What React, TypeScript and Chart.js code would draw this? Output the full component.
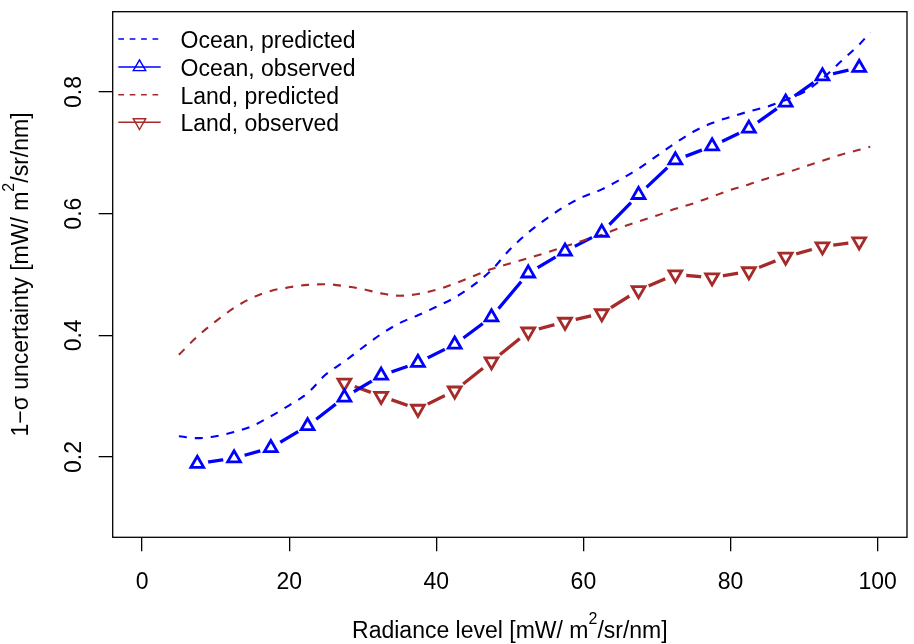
import React, { useEffect, useRef } from "react";
import { Chart, registerables } from "chart.js";

Chart.register(...registerables);

// ---- data ----
const xTicks = [0, 20, 40, 60, 80, 100];
const xTickLabels = ["0", "20", "40", "60", "80", "100"];
const yTicks = [0.2, 0.4, 0.6, 0.8];
const yTickLabels = ["0.2", "0.4", "0.6", "0.8"];

const oceanObsX = [7.5, 12.5, 17.5, 22.5, 27.5, 32.5, 37.5, 42.5, 47.5, 52.5, 57.5, 62.5, 67.5, 72.5, 77.5, 82.5, 87.5, 92.5, 97.5];
const oceanObsY = [0.189, 0.198, 0.215, 0.251, 0.298, 0.334, 0.355, 0.385, 0.430, 0.502, 0.538, 0.569, 0.631, 0.688, 0.711, 0.740, 0.783, 0.826, 0.840];

const landObsX = [27.5, 32.5, 37.5, 42.5, 47.5, 52.5, 57.5, 62.5, 67.5, 72.5, 77.5, 82.5, 87.5, 92.5, 97.5];
const landObsY = [0.322, 0.300, 0.279, 0.309, 0.357, 0.406, 0.422, 0.436, 0.474, 0.500, 0.495, 0.505, 0.529, 0.546, 0.554];

const predX = [5, 7.5, 10, 12.5, 15, 17.5, 20, 22.5, 25, 27.5, 30, 32.5, 35, 37.5, 40, 42.5, 45, 47.5, 50, 52.5, 55, 57.5, 60, 62.5, 65, 67.5, 70, 72.5, 75, 77.5, 80, 82.5, 85, 87.5, 90, 92.5, 95, 97.5, 99];
const oceanPredY = [0.234, 0.231, 0.234, 0.241, 0.251, 0.267, 0.285, 0.305, 0.336, 0.357, 0.380, 0.402, 0.420, 0.433, 0.447, 0.462, 0.482, 0.507, 0.541, 0.569, 0.592, 0.612, 0.628, 0.640, 0.656, 0.674, 0.695, 0.716, 0.735, 0.749, 0.759, 0.768, 0.776, 0.787, 0.800, 0.822, 0.850, 0.878, 0.898];
const landPredY = [0.368, 0.398, 0.423, 0.445, 0.462, 0.473, 0.479, 0.483, 0.484, 0.481, 0.476, 0.469, 0.465, 0.468, 0.475, 0.485, 0.497, 0.509, 0.518, 0.527, 0.536, 0.546, 0.556, 0.565, 0.577, 0.587, 0.597, 0.608, 0.617, 0.628, 0.639, 0.648, 0.658, 0.667, 0.677, 0.687, 0.697, 0.705, 0.710];

const legendLabels = ["Ocean, predicted", "Ocean, observed", "Land, predicted", "Land, observed"];

const BLUE = "#0000FF";
const BROWN = "#A52A2A";
const GAP = "#ffffff";
const FONT = '"Liberation Sans", Arial, Helvetica, sans-serif';
const FS = 23;

const pts = (xs: number[], ys: number[]) => xs.map((x, i) => ({ x, y: ys[i] }));

type Part = { t: string; sup?: boolean };

function drawRich(ctx: CanvasRenderingContext2D, parts: Part[], x: number, y: number) {
  const widths = parts.map((p) => {
    ctx.font = `${p.sup ? 16 : FS}px ${FONT}`;
    return ctx.measureText(p.t).width;
  });
  const total = widths.reduce((a, b) => a + b, 0);
  let cx = x - total / 2;
  ctx.textAlign = "left";
  ctx.textBaseline = "alphabetic";
  parts.forEach((p, i) => {
    ctx.font = `${p.sup ? 16 : FS}px ${FONT}`;
    ctx.fillText(p.t, cx, p.sup ? y - 14 : y);
    cx += widths[i];
  });
}

function tri(ctx: CanvasRenderingContext2D, x: number, y: number, r: number, down: boolean) {
  const s = down ? -1 : 1;
  ctx.beginPath();
  ctx.moveTo(x, y - s * r);
  ctx.lineTo(x + 0.866 * r, y + s * r / 2);
  ctx.lineTo(x - 0.866 * r, y + s * r / 2);
  ctx.closePath();
  ctx.stroke();
}

const decorPlugin = {
  id: "decor",
  afterDraw(chart: any) {
    const ctx: CanvasRenderingContext2D = chart.ctx;
    const { left, right, top, bottom } = chart.chartArea;
    const xs = chart.scales.x;
    const ys = chart.scales.y;
    ctx.save();
    ctx.strokeStyle = "#000";
    ctx.lineWidth = 1.3;
    ctx.strokeRect(left, top, right - left, bottom - top);
    ctx.fillStyle = "#000";
    ctx.font = `${FS}px ${FONT}`;
    ctx.textAlign = "center";
    ctx.textBaseline = "alphabetic";
    xTicks.forEach((v, i) => {
      ctx.fillText(xTickLabels[i], xs.getPixelForValue(v), 588.5);
    });
    yTicks.forEach((v, i) => {
      ctx.save();
      ctx.translate(80.5, ys.getPixelForValue(v));
      ctx.rotate(-Math.PI / 2);
      ctx.textAlign = "center";
      ctx.fillText(yTickLabels[i], 0, 0);
      ctx.restore();
    });
    const cxp = (left + right) / 2;
    drawRich(ctx, [{ t: "Radiance level [mW/ m" }, { t: "2", sup: true }, { t: "/sr/nm]" }], cxp, 638.3);
    ctx.save();
    ctx.translate(28, (top + bottom) / 2);
    ctx.rotate(-Math.PI / 2);
    drawRich(ctx, [{ t: "1\u2212\u03C3 uncertainty [mW/ m" }, { t: "2", sup: true }, { t: "/sr/nm]" }], 0, 0);
    ctx.restore();
    const rows = [39, 67, 94.7, 122.3];
    const cols = [BLUE, BLUE, BROWN, BROWN];
    rows.forEach((ry, i) => {
      ctx.strokeStyle = cols[i];
      ctx.lineWidth = 1.4;
      ctx.setLineDash(i % 2 === 0 ? [5.7, 5.7] : []);
      ctx.beginPath();
      ctx.moveTo(118.3, ry);
      ctx.lineTo(160.7, ry);
      ctx.stroke();
      ctx.setLineDash([]);
      if (i % 2 === 1) {
        tri(ctx, 139.5, ry, 7.2, i === 3);
      }
      ctx.fillStyle = "#000";
      ctx.font = `${FS}px ${FONT}`;
      ctx.textAlign = "left";
      ctx.textBaseline = "alphabetic";
      ctx.fillText(legendLabels[i], 180.5, ry + 9);
    });
    ctx.restore();
  },
};

export default function App() {
  const ref = useRef<HTMLCanvasElement | null>(null);
  useEffect(() => {
    if (!ref.current) return;
    const lineDs = (data: any, color: string, extra: any) => ({
      data,
      showLine: true,
      borderColor: color,
      backgroundColor: color,
      pointRadius: 0,
      fill: false,
      ...extra,
    });
    const gapDs = (data: any) => ({
      data,
      showLine: false,
      pointStyle: "circle",
      pointRadius: 11,
      pointBackgroundColor: GAP,
      pointBorderColor: GAP,
      pointBorderWidth: 0,
      order: 3,
    });
    const chart = new Chart(ref.current, {
      type: "scatter",
      data: {
        datasets: [
          lineDs(pts(oceanObsX, oceanObsY), BLUE, { borderWidth: 3.3, order: 4 }),
          lineDs(pts(landObsX, landObsY), BROWN, { borderWidth: 3.3, order: 4 }),
          gapDs(pts(oceanObsX, oceanObsY)),
          gapDs(pts(landObsX, landObsY)),
          lineDs(pts(predX, oceanPredY), BLUE, { borderWidth: 2.1, borderDash: [8, 8], cubicInterpolationMode: "monotone", order: 2 }),
          lineDs(pts(predX, landPredY), BROWN, { borderWidth: 2.1, borderDash: [8, 8], cubicInterpolationMode: "monotone", order: 2 }),
          {
            data: pts(oceanObsX, oceanObsY),
            showLine: false,
            pointStyle: "triangle",
            pointRadius: 7.4,
            pointBorderWidth: 2.8,
            pointBorderColor: BLUE,
            pointBackgroundColor: "rgba(0,0,0,0)",
            order: 1,
          },
          {
            data: pts(landObsX, landObsY),
            showLine: false,
            pointStyle: "triangle",
            pointRotation: 180,
            pointRadius: 7.4,
            pointBorderWidth: 2.8,
            pointBorderColor: BROWN,
            pointBackgroundColor: "rgba(0,0,0,0)",
            order: 1,
          },
        ],
      },
      options: {
        animation: false,
        responsive: false,
        events: [],
        layout: { padding: { top: 11.7, right: 2.3, left: 0, bottom: 0 } },
        plugins: { legend: { display: false }, tooltip: { enabled: false }, title: { display: false } },
        scales: {
          x: {
            type: "linear",
            min: -4,
            max: 104,
            afterBuildTicks: (s: any) => {
              s.ticks = xTicks.map((v) => ({ value: v }));
            },
            afterFit: (s: any) => {
              s.height = 644 - 537.3;
            },
            grid: { drawOnChartArea: false, drawTicks: true, tickLength: 14, color: "#000", lineWidth: 1.3 },
            border: { display: false },
            ticks: { display: false },
          },
          y: {
            type: "linear",
            min: 0.068,
            max: 0.932,
            afterBuildTicks: (s: any) => {
              s.ticks = yTicks.map((v) => ({ value: v }));
            },
            afterFit: (s: any) => {
              s.width = 112.7;
            },
            grid: { drawOnChartArea: false, drawTicks: true, tickLength: 14, color: "#000", lineWidth: 1.3 },
            border: { display: false },
            ticks: { display: false },
          },
        },
      } as any,
      plugins: [decorPlugin],
    });
    return () => chart.destroy();
  }, []);
  return (
    <div style={{ position: "fixed", left: 0, top: 0, width: 914, height: 644, overflow: "hidden", background: "#fff" }}>
      <canvas ref={ref} width={918} height={644} style={{ display: "block", width: 918, height: 644 }} />
    </div>
  );
}
